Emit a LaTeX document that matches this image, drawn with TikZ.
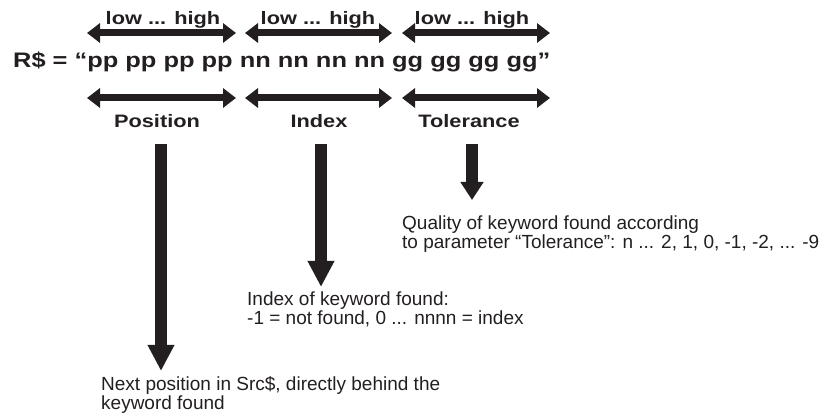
\documentclass[tikz,border=0pt]{standalone}
\usepackage{fontspec}
\setmainfont{Liberation Sans}
\newfontfamily\widebold[FakeStretch=1.21]{Liberation Sans Bold}
\usetikzlibrary{arrows.meta}
\definecolor{ink}{HTML}{231F20}
\tikzset{
  x=1pt, y=-1pt,
  dblarrow/.style={draw=ink, line width=7pt, {Triangle[length=13pt,width=19pt]}-{Triangle[length=13pt,width=19pt]}},
  downarrow/.style={draw=ink, line width=12pt, -{Triangle[length=26pt,width=25pt]}},
  shortdown/.style={draw=ink, line width=12pt, -{Triangle[length=18pt,width=22pt]}},
  boldlbl/.style={text=ink, inner sep=0pt, anchor=base, font=\widebold\fontsize{18}{20}\selectfont},
  maintxt/.style={text=ink, inner sep=0pt, anchor=base west, font=\widebold\fontsize{21}{24}\selectfont},
  bodytxt/.style={text=ink, inner sep=0pt, anchor=base west, align=left, font=\fontsize{19}{19}\selectfont}
}
\begin{document}
\begin{tikzpicture}
\useasboundingbox (0,0) rectangle (833,419);
% top labels
\node[boldlbl] (lh1) at (163,25) {low ... high};
\node[boldlbl] (lh2) at (318,25) {low ... high};
\node[boldlbl] (lh3) at (472,25) {low ... high};
% top double arrows
\coordinate (t1a) at (87,33);  \coordinate (t1b) at (236,33);
\coordinate (t2a) at (245,33); \coordinate (t2b) at (392,33);
\coordinate (t3a) at (402,33); \coordinate (t3b) at (550,33);
\draw[dblarrow] (t1a) -- (t1b);
\draw[dblarrow] (t2a) -- (t2b);
\draw[dblarrow] (t3a) -- (t3b);
% main text
\node[maintxt] (main) at (13,68) {R\$ = “pp pp pp pp nn nn nn nn gg gg gg gg”};
% bottom double arrows
\coordinate (b1a) at (87,98);  \coordinate (b1b) at (236,98);
\coordinate (b2a) at (245,98); \coordinate (b2b) at (392,98);
\coordinate (b3a) at (402,98); \coordinate (b3b) at (550,98);
\draw[dblarrow] (b1a) -- (b1b);
\draw[dblarrow] (b2a) -- (b2b);
\draw[dblarrow] (b3a) -- (b3b);
% bottom labels
\node[boldlbl] (pos) at (157,128) {Position};
\node[boldlbl] (idx) at (319,128) {Index};
\node[boldlbl] (tol) at (469,128) {Tolerance};
% down arrows
\coordinate (p0) at (161,144); \coordinate (p1) at (161,371);
\coordinate (i0) at (321,144); \coordinate (i1) at (321,287);
\coordinate (g0) at (472,144); \coordinate (g1) at (472,200);
\draw[downarrow] (p0) -- (p1);
\draw[downarrow] (i0) -- (i1);
\draw[shortdown] (g0) -- (g1);
% descriptions (anchor = baseline of last line)
\node[bodytxt] (qual) at (402,249) {Quality of keyword found according\\to parameter “Tolerance”: n ... 2, 1, 0, -1, -2, ... -9};
\node[bodytxt] (idxtxt) at (247,325) {Index of keyword found:\\-1 = not found, 0 ... nnnn = index};
\node[bodytxt] (next) at (101,410) {Next position in Src\$, directly behind the\\keyword found};
\end{tikzpicture}
\end{document}
